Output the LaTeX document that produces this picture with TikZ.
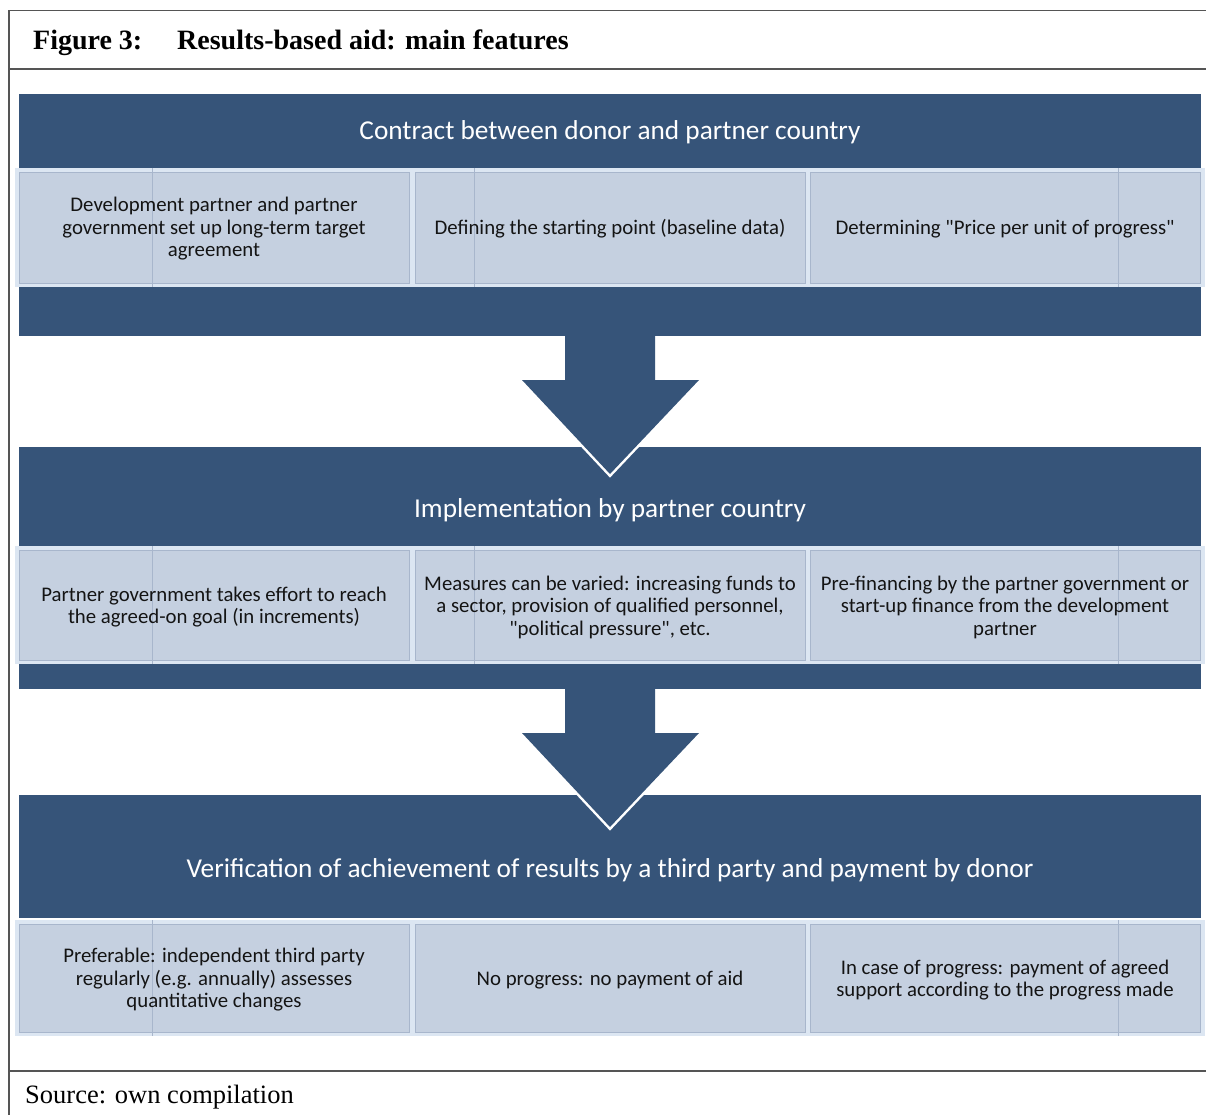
\documentclass[tikz,border=0pt]{standalone}
\usepackage{fontspec}
\setmainfont{Liberation Serif}
\newfontfamily\calib{Carlito}
\definecolor{band}{RGB}{54,84,121}
\definecolor{cellfill}{RGB}{197,208,224}
\definecolor{celledge}{RGB}{220,230,242}
\definecolor{cellline}{RGB}{168,182,204}
\definecolor{framecol}{RGB}{85,85,85}
\definecolor{txt}{RGB}{20,20,20}
\begin{document}
\begin{tikzpicture}[x=1pt,y=-1pt,
  frameline/.style={draw=framecol,line width=1.4},
  hdr/.style={text=white,font=\calib\fontsize{27.3}{32}\selectfont,inner sep=0},
  celltxt/.style={text=txt,font=\calib\fontsize{20.8}{22.5}\selectfont,align=center,inner sep=0},
  cellbox/.style={fill=cellfill,draw=cellline,line width=0.8},
  faint/.style={draw=cellline,line width=0.6},
  arrowfill/.style={fill=band},
  arrowedge/.style={draw=white,line width=5,line join=miter}]
\useasboundingbox[fill=white] (0,0) rectangle (1206,1115);
% frame
\draw[frameline] (9,1115) -- (9,10.5) -- (1206,10.5);
\draw[frameline] (9,69) -- (1206,69);
\draw[frameline] (9,1071) -- (1206,1071);
\node[anchor=base west,inner sep=0,font=\bfseries\fontsize{28}{32}\selectfont] (fig) at (33,50) {Figure 3:};
\node[anchor=base west,inner sep=0,font=\bfseries\fontsize{28}{32}\selectfont] (title) at (177,50) {Results-based aid: main features};
\node[anchor=base west,inner sep=0,font=\fontsize{26.5}{30}\selectfont] (src) at (25,1103) {Source: own compilation};
% bands
\fill[band] (19,94) rectangle (1201,336);
\fill[band] (19,447) rectangle (1201,689);
\fill[band] (19,795) rectangle (1201,918);
% arrows
\draw[arrowedge] (522,380) -- (610,474) -- (699,380);
\fill[arrowfill] (565,336) -- (565,380) -- (522,380) -- (610,474) -- (699,380) -- (655,380) -- (655,336) -- cycle;
\draw[arrowedge] (522,733) -- (610,827) -- (699,733);
\fill[arrowfill] (565,689) -- (565,733) -- (522,733) -- (610,827) -- (699,733) -- (655,733) -- (655,689) -- cycle;
% cells
\foreach \t/\b in {172/283, 550/660, 924/1032} {
  \fill[celledge] (15,\t-4) rectangle (1205,\b+4);
  \draw[cellbox] (19,\t) rectangle (409,\b);
  \draw[cellbox] (415,\t) rectangle (805,\b);
  \draw[cellbox] (810,\t) rectangle (1200,\b);
  \draw[faint] (152,\t-4) -- (152,\b+4);
  \draw[faint] (1118,\t-4) -- (1118,\b+4);
}
\draw[faint] (474,168) -- (474,287);
\draw[faint] (474,546) -- (474,664);
% headers
\node[hdr] (h1) at (610,132) {Contract between donor and partner country};
\node[hdr] (h2) at (610,510) {Implementation by partner country};
\node[hdr] (h3) at (610,870) {Verification of achievement of results by a third party and payment by donor};
% cell texts
\node[celltxt] (c11) at (214,229) {Development partner and partner\\government set up long-term target\\agreement};
\node[celltxt] (c12) at (610,229) {Defining the starting point (baseline data)};
\node[celltxt] (c13) at (1005,229) {Determining "Price per unit of progress"};
\node[celltxt] (c21) at (214,607) {Partner government takes effort to reach\\the agreed-on goal (in increments)};
\node[celltxt] (c22) at (610,607) {Measures can be varied: increasing funds to\\a sector, provision of qualified personnel,\\"political pressure", etc.};
\node[celltxt] (c23) at (1005,607) {Pre-financing by the partner government or\\start-up finance from the development\\partner};
\node[celltxt] (c31) at (214,980) {Preferable: independent third party\\regularly (e.g. annually) assesses\\quantitative changes};
\node[celltxt] (c32) at (610,980) {No progress: no payment of aid};
\node[celltxt] (c33) at (1005,980) {In case of progress: payment of agreed\\support according to the progress made};
\end{tikzpicture}
\end{document}
